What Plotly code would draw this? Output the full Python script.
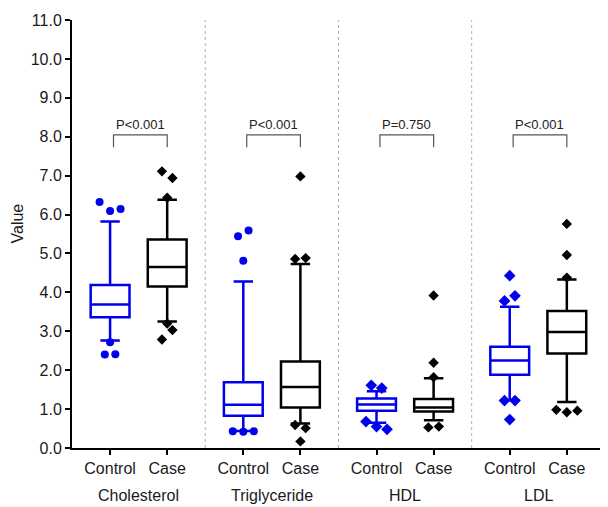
import plotly.graph_objects as go

# Summary statistics (mmol/L)
GROUPS = ["Cholesterol", "Triglyceride", "HDL", "LDL"]
P_VALUES = ["P<0.001", "P<0.001", "P=0.750", "P<0.001"]

CONTROL_LOW = [2.76, 0.44, 0.65, 1.23]
CONTROL_Q1 = [3.36, 0.83, 0.96, 1.88]
CONTROL_MEDIAN = [3.69, 1.11, 1.12, 2.25]
CONTROL_Q3 = [4.19, 1.69, 1.27, 2.60]
CONTROL_HIGH = [5.82, 4.28, 1.46, 3.63]

CASE_LOW = [3.25, 0.63, 0.71, 1.18]
CASE_Q1 = [4.15, 1.04, 0.94, 2.43]
CASE_MEDIAN = [4.65, 1.57, 1.04, 2.98]
CASE_Q3 = [5.36, 2.22, 1.26, 3.52]
CASE_HIGH = [6.38, 4.73, 1.79, 4.33]

CONTROL_OUTLIERS = [
    [6.32, 6.09, 6.14, 2.72, 2.40, 2.41],
    [5.44, 5.59, 4.81, 0.43, 0.42, 0.43],
    [1.61, 1.54, 0.68, 0.55, 0.48],
    [4.43, 3.78, 3.91, 1.22, 1.22, 0.73],
]
CASE_OUTLIERS = [
    [7.11, 6.94, 6.43, 3.20, 3.03, 2.79],
    [6.98, 4.86, 4.88, 0.59, 0.51, 0.17],
    [3.92, 2.19, 1.82, 0.53, 0.55],
    [5.76, 4.96, 4.38, 0.98, 0.92, 0.96],
]

# horizontal spreading of overlapping outliers (in slot steps)
CONTROL_SLOTS = [
    [-1, 0, 1, 0, -0.5, 0.5],
    [-0.5, 0.5, 0, -1, 0, 1],
    [-0.5, 0.5, -1, 0, 1],
    [0, -0.5, 0.5, -0.5, 0.5, 0],
]
CASE_SLOTS = [
    [-0.5, 0.5, 0, 0, 0.5, -0.5],
    [0, -0.5, 0.5, -0.5, 0.5, 0],
    [0, 0, 0, -0.5, 0.5],
    [0, 0, 0, -1, 0, 1],
]

BLUE = "#0000ee"
BLACK = "#000000"
FONT = "Liberation Sans, Arial, sans-serif"
GAP = 2.333
STEP = 0.184

ctrl_x = [i * GAP for i in range(len(GROUPS))]
case_x = [x + 1 for x in ctrl_x]

fig = go.Figure()

fig.add_trace(go.Box(
    x=ctrl_x, q1=CONTROL_Q1, median=CONTROL_MEDIAN, q3=CONTROL_Q3,
    lowerfence=CONTROL_LOW, upperfence=CONTROL_HIGH,
    width=0.68, whiskerwidth=0.5, boxpoints=False,
    line=dict(color=BLUE, width=2.5), fillcolor="rgba(0,0,0,0)",
    showlegend=False,
))
fig.add_trace(go.Box(
    x=case_x, q1=CASE_Q1, median=CASE_MEDIAN, q3=CASE_Q3,
    lowerfence=CASE_LOW, upperfence=CASE_HIGH,
    width=0.68, whiskerwidth=0.5, boxpoints=False,
    line=dict(color=BLACK, width=2.5), fillcolor="rgba(0,0,0,0)",
    showlegend=False,
))

# outliers
for i in range(len(GROUPS)):
    symbol = "circle" if i < 2 else "diamond"
    fig.add_trace(go.Scatter(
        x=[ctrl_x[i] + s * STEP for s in CONTROL_SLOTS[i]],
        y=CONTROL_OUTLIERS[i], mode="markers",
        marker=dict(symbol=symbol, color=BLUE, size=8 if symbol == "circle" else 9),
        showlegend=False,
    ))
    fig.add_trace(go.Scatter(
        x=[case_x[i] + s * STEP for s in CASE_SLOTS[i]],
        y=CASE_OUTLIERS[i], mode="markers",
        marker=dict(symbol="diamond", color=BLACK, size=8),
        showlegend=False,
    ))

# dotted separators between groups
for i in range(1, len(GROUPS)):
    sep = (case_x[i - 1] + ctrl_x[i]) / 2
    fig.add_shape(type="line", x0=sep, x1=sep, y0=0, y1=1, xref="x", yref="paper",
                  line=dict(color="#b0b0b0", width=1, dash="dot"))

# significance brackets + group names
for i, p in enumerate(P_VALUES):
    x0, x1 = ctrl_x[i] + 0.06, case_x[i]
    fig.add_shape(type="path", path=f"M {x0} 7.73 L {x0} 8.05 L {x1} 8.05 L {x1} 7.73",
                  line=dict(color="#555555", width=1.2))
    fig.add_annotation(x=(x0 + x1) / 2, y=8.05, text=p, showarrow=False,
                       yanchor="bottom", yshift=1,
                       font=dict(family=FONT, size=13, color="#222222"))
    fig.add_annotation(x=(ctrl_x[i] + case_x[i]) / 2, y=-0.11, xref="x", yref="paper",
                       text=GROUPS[i], showarrow=False, yanchor="middle",
                       font=dict(family=FONT, size=16, color="#1a1a1a"))

# y-axis title, placed by hand close to the left edge
fig.add_annotation(x=0, y=5.77, xref="paper", yref="y", text="Value", textangle=-90,
                   showarrow=False, xanchor="center", yanchor="middle", xshift=-55,
                   font=dict(family=FONT, size=16, color="#1a1a1a"))

# the page body adds an 8px offset, so the figure is 8px smaller each way
fig.update_layout(
    width=600, height=499,
    margin=dict(l=64, r=4, t=10, b=59),
    plot_bgcolor="white", paper_bgcolor="white",
    font=dict(family=FONT, size=16, color="#1a1a1a"),
    xaxis=dict(
        range=[-0.667, 8.65], tickvals=ctrl_x + case_x,
        ticktext=["Control"] * 4 + ["Case"] * 4,
        showgrid=False, zeroline=False, showline=True, linecolor=BLACK, linewidth=2,
        ticks="outside", ticklen=5, tickwidth=1.5, tickcolor=BLACK,
        tickfont=dict(size=16),
    ),
    yaxis=dict(
        range=[0, 11], tickvals=list(range(12)),
        ticktext=[f"{v:.1f}" for v in range(12)],
        showgrid=False, zeroline=False, showline=True, linecolor=BLACK, linewidth=2,
        ticks="outside", ticklen=5, tickwidth=1.5, tickcolor=BLACK,
        tickfont=dict(size=16),
    ),
)

fig.write_html("out.html")
